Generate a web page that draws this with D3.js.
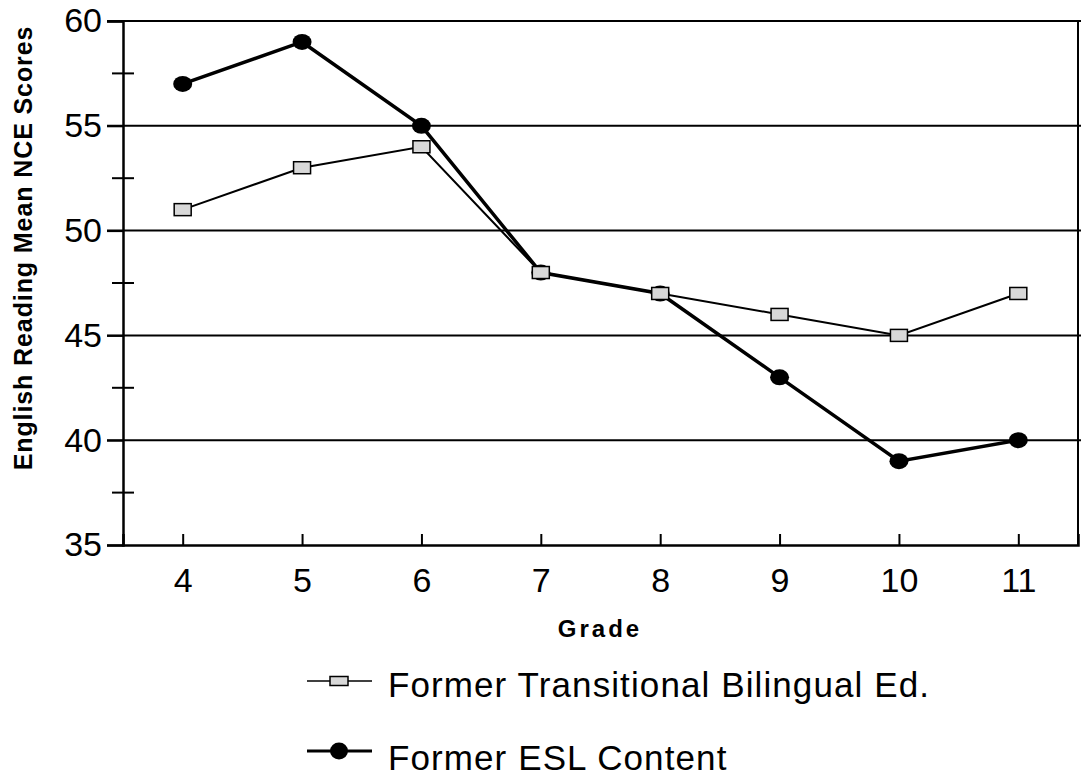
<!DOCTYPE html>
<html><head><meta charset="utf-8">
<script src="https://cdn.jsdelivr.net/npm/d3@7"></script>
<style>body{margin:0;background:#fff;} svg{display:block;}</style>
</head><body>
<svg id="c" width="1081" height="778"></svg>
<script>
const grades = [4, 5, 6, 7, 8, 9, 10, 11];
const bilingual = [51, 53, 54, 48, 47, 46, 45, 47];
const esl = [57, 59, 55, 48, 47, 43, 39, 40];
const yTicks = [35, 40, 45, 50, 55, 60];
const yMinorTicks = [37.5, 42.5, 47.5, 52.5, 57.5];
const seriesNames = ["Former Transitional Bilingual Ed.", "Former ESL Content"];

const svg = d3.select("#c");
const L = 123, R = 1078, T = 21, B = 545;
const x = d3.scaleLinear().domain([3.5, 11.5]).range([L, R]);
const y = d3.scaleLinear().domain([35, 60]).range([B, T]);
const font = "Arial, 'Liberation Sans', sans-serif";

// gridlines
svg.append("g").selectAll("line").data(yTicks.filter(d => d > 35)).join("line")
  .attr("x1", L - 16).attr("x2", 1081).attr("y1", d => y(d)).attr("y2", d => y(d))
  .attr("stroke", "#000").attr("stroke-width", 2);

// y axis
const yAxis = d3.axisLeft(y).tickValues(yTicks).tickSize(16).tickFormat(d3.format("d"));
const gy = svg.append("g").attr("transform", `translate(${L},0)`).call(yAxis);
gy.select(".domain").attr("stroke-width", 2.5);
gy.selectAll(".tick line").attr("stroke-width", 2);
gy.selectAll("text").attr("font-family", font).attr("font-size", 34).attr("fill", "#000").attr("x", -21);
// minor ticks crossing axis
svg.append("g").selectAll("line").data(yMinorTicks).join("line")
  .attr("x1", L - 11).attr("x2", L + 11).attr("y1", d => y(d)).attr("y2", d => y(d))
  .attr("stroke", "#000").attr("stroke-width", 2);

// x axis
const xAxis = d3.axisBottom(x).tickValues(grades).tickSize(-11).tickPadding(23).tickFormat(d3.format("d"));
const gx = svg.append("g").attr("transform", `translate(0,${B})`).call(xAxis);
gx.select(".domain").attr("stroke-width", 2.5);
gx.selectAll(".tick line").attr("stroke-width", 2);
gx.selectAll("text").attr("font-family", font).attr("font-size", 34).attr("fill", "#000");

// right border
svg.append("line").attr("x1", R).attr("x2", R).attr("y1", T).attr("y2", B)
  .attr("stroke", "#000").attr("stroke-width", 2);

// axis titles
svg.append("text").attr("transform", `translate(32,248) rotate(-90)`)
  .attr("text-anchor", "middle").attr("font-family", font).attr("font-weight", "bold")
  .attr("font-size", 25).attr("letter-spacing", 0.9).text("English Reading Mean NCE Scores");
svg.append("text").attr("x", 600).attr("y", 637).attr("text-anchor", "middle")
  .attr("font-family", font).attr("font-weight", "bold").attr("font-size", 24)
  .attr("letter-spacing", 3).text("Grade");

const line = d3.line().x((d, i) => x(grades[i])).y(d => y(d));

// bilingual series
svg.append("path").datum(bilingual).attr("d", line).attr("fill", "none")
  .attr("stroke", "#000").attr("stroke-width", 2);
// esl series
svg.append("path").datum(esl).attr("d", line).attr("fill", "none")
  .attr("stroke", "#000").attr("stroke-width", 3.5);
svg.append("g").selectAll("ellipse").data(esl).join("ellipse")
  .attr("cx", (d, i) => x(grades[i])).attr("cy", d => y(d)).attr("rx", 9.5).attr("ry", 8)
  .attr("fill", "#000");
svg.append("g").selectAll("rect").data(bilingual).join("rect")
  .attr("x", (d, i) => x(grades[i]) - 8.5).attr("y", d => y(d) - 6).attr("width", 17).attr("height", 12)
  .attr("fill", "#d8d8d8").attr("stroke", "#000").attr("stroke-width", 1.5);

// legend
const lg = svg.append("g");
const ly = [681, 751];
lg.append("line").attr("x1", 307).attr("x2", 372).attr("y1", ly[0]).attr("y2", ly[0]).attr("stroke", "#000").attr("stroke-width", 1.5);
lg.append("rect").attr("x", 330).attr("y", ly[0] - 4.5).attr("width", 18).attr("height", 9)
  .attr("fill", "#d8d8d8").attr("stroke", "#000").attr("stroke-width", 1.5);
lg.append("line").attr("x1", 307).attr("x2", 372).attr("y1", ly[1]).attr("y2", ly[1]).attr("stroke", "#000").attr("stroke-width", 3);
lg.append("ellipse").attr("cx", 339).attr("cy", ly[1]).attr("rx", 9).attr("ry", 8.5).attr("fill", "#000");
lg.selectAll("text").data(seriesNames).join("text")
  .attr("x", 388).attr("y", (d, i) => [697, 770][i]).attr("font-family", font).attr("font-size", 35)
  .attr("letter-spacing", 1.1).text(d => d);
</script>
</body></html>
